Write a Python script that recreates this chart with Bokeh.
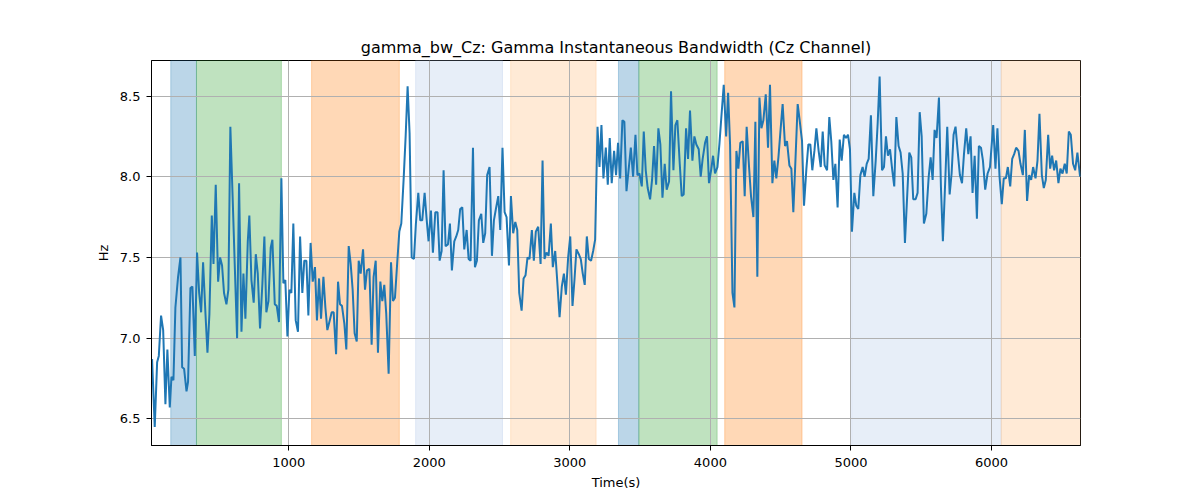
from bokeh.plotting import figure
from bokeh.models import Range1d, FixedTicker, NumeralTickFormatter, BoxAnnotation, ColumnDataSource
from bokeh.embed import file_html
from bokeh.resources import INLINE

title_text = "gamma_bw_Cz: Gamma Instantaneous Bandwidth (Cz Channel)"
x_label = "Time(s)"
y_label = "Hz"

times = [
    28, 47, 64, 76, 92, 107, 123, 137, 154, 166, 180, 194, 213, 230, 242, 256, 273, 284, 301, 315,
    332, 348, 363, 377, 391, 408, 422, 436, 453, 465, 481, 498, 512, 526, 540, 557, 571, 585, 602, 616,
    633, 647, 664, 678, 692, 709, 720, 735, 751, 766, 780, 796, 813, 827, 841, 856, 872, 884, 901, 915,
    931, 948, 962, 976, 991, 1005, 1019, 1033,
    1050, 1066, 1081, 1097, 1111, 1126, 1140, 1156, 1171, 1187, 1201, 1216, 1230, 1247, 1261, 1275,
    1292, 1306, 1320, 1337, 1351, 1365, 1379, 1396, 1410, 1427, 1441, 1455, 1469, 1484, 1498, 1512,
    1529, 1543, 1557, 1574, 1590, 1604, 1619, 1635, 1652, 1666, 1680, 1694, 1711, 1728, 1742, 1756,
    1773, 1787, 1801, 1818, 1832, 1846, 1860, 1875, 1891, 1905, 1922, 1936, 1950, 1967, 1981, 1995,
    2012, 2026, 2043, 2059, 2074, 2088, 2102, 2116, 2133, 2147, 2161, 2178, 2192, 2206, 2220, 2235,
    2249, 2266, 2280, 2294, 2311, 2325, 2339, 2353, 2370, 2384, 2398, 2412, 2429, 2446, 2460, 2474,
    2491, 2505, 2521, 2536, 2550, 2567, 2581, 2597, 2612, 2626, 2640, 2657, 2671, 2685, 2699, 2713,
    2730, 2744, 2758, 2775, 2792, 2806, 2820, 2834, 2849, 2865, 2879, 2896, 2910, 2927, 2943, 2958,
    2972, 2988, 3003,
    3019, 3033, 3047, 3064, 3078, 3092, 3106, 3121, 3135, 3151, 3166, 3180, 3197, 3211, 3225, 3239,
    3256, 3270, 3284, 3298, 3315, 3329, 3343, 3358, 3374, 3388, 3403, 3419, 3434, 3450, 3467, 3481,
    3495, 3512, 3526, 3540, 3554, 3571, 3585, 3599, 3614, 3630, 3644, 3659, 3675, 3689, 3706, 3720,
    3737, 3751, 3765, 3782, 3796, 3810, 3827, 3841, 3855, 3872, 3886, 3900, 3917, 3931, 3945, 3962,
    3976, 3990,
    4005, 4019, 4033, 4050, 4064, 4078, 4095, 4112, 4126, 4140, 4157, 4171, 4185, 4199, 4213, 4230,
    4244, 4258, 4275, 4289, 4306, 4320, 4334, 4349, 4363, 4377, 4394, 4410, 4424, 4441, 4455, 4469,
    4484, 4500, 4514, 4531, 4545, 4562, 4576, 4590, 4605, 4621, 4635, 4652, 4666, 4683, 4697, 4711,
    4725, 4740, 4754, 4770, 4785, 4799, 4813, 4830, 4846, 4860, 4875, 4889, 4905, 4920, 4934, 4950,
    4965, 4979,
    4993, 5007, 5024, 5038, 5052, 5067, 5083, 5097, 5112, 5126, 5142, 5159, 5176, 5190, 5204, 5221,
    5235, 5249, 5263, 5278, 5294, 5308, 5323, 5339, 5353, 5368, 5384, 5401, 5415, 5429, 5443, 5460,
    5474, 5489, 5503, 5519, 5536, 5553, 5567, 5581, 5595, 5609, 5626, 5640, 5654, 5671, 5685, 5702,
    5716, 5730, 5744, 5759, 5775, 5790, 5804, 5820, 5835, 5851, 5865, 5880, 5896, 5910, 5925, 5939,
    5955, 5972, 5989,
    6012, 6028, 6042, 6057, 6073, 6087, 6102, 6116, 6133, 6147, 6161, 6175, 6192, 6206, 6223, 6237,
    6253, 6268, 6282, 6296, 6313, 6327, 6341, 6358, 6372, 6386, 6403, 6417, 6431, 6445, 6460, 6476,
    6490, 6505, 6521, 6535, 6550, 6564, 6580, 6595, 6611, 6630,
]

bandwidth_hz = [
    6.87, 6.45, 6.85, 6.89, 7.14, 7.05, 6.59, 6.93, 6.57, 6.76, 6.74, 7.19, 7.38, 7.50, 6.82, 6.81, 6.67, 6.73, 7.31, 7.32,
    6.89, 7.53, 7.28, 7.16, 7.47, 7.15, 6.91, 7.15, 7.76, 7.46, 7.95, 7.35, 7.50, 7.45, 7.28, 7.21, 7.30, 8.31, 7.85, 7.46,
    7.00, 7.96, 7.04, 7.40, 7.12, 7.60, 7.76, 7.36, 7.22, 7.52, 7.40, 7.06, 7.34, 7.63, 7.16, 7.23, 7.56, 7.61, 7.21, 7.20,
    7.10, 7.99, 7.34, 7.36, 7.01, 7.30, 7.28, 7.71,
    7.11, 7.04, 7.63, 7.28, 7.48, 7.48, 7.14, 7.59, 7.35, 7.44, 7.11, 7.37, 7.12, 7.38, 7.19, 7.05,
    7.11, 7.16, 7.16, 6.90, 7.35, 7.21, 7.20, 7.09, 6.93, 7.57, 7.46, 7.30, 7.03, 6.98, 7.48, 7.40,
    7.55, 7.30, 7.42, 7.43, 6.96, 7.38, 7.48, 6.91, 7.35, 7.23, 7.33, 7.15, 6.78, 7.47, 7.23, 7.25,
    7.48, 7.66, 7.71, 7.99, 8.25, 8.56, 8.27, 7.50, 7.49, 7.71, 7.90, 7.73, 7.73, 7.90, 7.74, 7.60,
    7.79, 7.53, 7.78, 7.78, 7.48, 7.54, 8.04, 7.57, 7.58, 7.71, 7.42, 7.60, 7.63, 7.67, 7.80, 7.81,
    7.55, 7.67, 7.49, 7.48, 8.18, 7.44, 7.48, 7.73, 7.77, 7.59, 7.65, 8.01, 8.06, 7.51, 7.73, 7.80,
    7.88, 7.67, 8.18, 7.78, 7.75, 7.45, 7.88, 7.65, 7.72, 7.67, 7.28, 7.17, 7.37, 7.39, 7.50, 7.49,
    7.67, 7.48, 7.66, 7.69, 7.46, 8.10, 7.49, 7.53, 7.51, 7.71, 7.44, 7.54, 7.36, 7.13, 7.32, 7.40,
    7.27, 7.50, 7.63,
    7.20, 7.36, 7.55, 7.52, 7.49, 7.40, 7.33, 7.63, 7.49, 7.48, 7.54, 7.61, 8.31, 8.06, 8.32, 7.99,
    8.18, 7.95, 8.24, 7.96, 8.16, 8.01, 8.21, 7.99, 8.35, 8.34, 7.91, 8.05, 8.18, 8.00, 8.26, 8.01,
    8.02, 7.94, 8.28, 8.04, 7.93, 7.86, 7.98, 8.19, 7.95, 8.30, 8.20, 7.87, 8.08, 7.92, 7.97, 8.53,
    8.04, 8.32, 8.35, 8.08, 7.88, 7.89, 8.30, 8.11, 8.41, 8.10, 8.25, 8.20, 8.17, 8.00, 8.11, 8.21,
    8.25, 7.96,
    8.04, 8.13, 8.02, 8.06, 8.20, 8.37, 8.57, 8.25, 8.52, 8.20, 7.28, 7.19, 8.16, 8.05, 8.21, 8.22,
    7.88, 8.31, 8.06, 7.88, 7.75, 8.34, 7.38, 8.49, 8.30, 8.35, 8.51, 8.18, 8.57, 7.96, 8.10, 7.99,
    8.12, 8.30, 8.45, 8.19, 8.22, 8.07, 8.05, 7.78, 8.10, 8.45, 8.35, 8.22, 7.82, 8.05, 8.20, 8.20,
    8.04, 8.16, 8.30, 8.16, 8.06, 8.28, 8.07, 8.04, 8.37, 8.22, 7.98, 8.08, 7.81, 8.23, 8.10, 8.26,
    8.24, 8.26,
    8.17, 7.66, 7.90, 7.82, 7.80, 8.01, 8.06, 8.00, 8.08, 8.11, 8.38, 7.88, 8.10, 8.33, 8.62, 8.04,
    8.06, 8.25, 8.13, 8.17, 8.04, 7.94, 8.37, 8.19, 8.15, 8.02, 7.59, 7.90, 8.15, 8.12, 7.86, 7.86,
    7.90, 8.40, 8.25, 7.71, 7.77, 8.00, 8.12, 7.98, 8.29, 8.24, 8.49, 7.94, 7.60, 7.98, 8.31, 7.89,
    8.02, 8.26, 8.31, 8.16, 8.01, 7.96, 8.14, 8.30, 8.14, 8.25, 7.90, 8.13, 7.74, 8.19, 8.18, 8.10,
    7.92, 8.02, 8.06,
    8.32, 8.05, 8.30, 8.00, 7.83, 7.99, 7.99, 8.06, 7.94, 8.11, 8.14, 8.18, 8.16, 8.08, 8.01, 8.29,
    7.85, 8.01, 7.98, 8.06, 7.99, 8.10, 8.39, 8.01, 7.93, 7.98, 8.26, 8.05, 8.13, 8.04, 8.10, 7.96,
    8.05, 8.02, 8.08, 8.02, 8.28, 8.26, 8.08, 8.04, 8.15, 8.00,
]

region_starts = [161, 344, 1163, 1903, 2579, 3346, 3491, 4102, 5005, 6069]
region_ends = [344, 948, 1787, 2521, 3187, 3491, 4048, 4652, 6069, 6700]
region_colors = ["#1f77b4", "#2ca02c", "#ff7f0e", "#aec7e8", "#ffbb78",
                 "#1f77b4", "#2ca02c", "#ff7f0e", "#aec7e8", "#ffbb78"]

x_ticks = [1000, 2000, 3000, 4000, 5000, 6000]
y_ticks = [6.5, 7.0, 7.5, 8.0, 8.5]

FONT = "DejaVu Sans"

p = figure(width=1200, height=500, output_backend="svg", toolbar_location=None,
           x_range=Range1d(24, 6633), y_range=Range1d(6.335, 8.72),
           title=title_text,
           min_border_left=151, min_border_right=120, min_border_top=60, min_border_bottom=55)

p.title.align = "center"
p.title.text_font = FONT
p.title.text_font_size = "16px"
p.title.text_font_style = "normal"
p.title.text_color = "black"
p.title.standoff = 7

for s, e, c in zip(region_starts, region_ends, region_colors):
    box = BoxAnnotation(left=s, right=e, fill_color=c, fill_alpha=0.3,
                        line_color=c, line_alpha=0.3, line_width=1, level="image")
    p.add_layout(box)

src = ColumnDataSource(data=dict(t=times, v=bandwidth_hz))
p.line("t", "v", source=src, line_color="#1f77b4", line_width=2)

p.xgrid.ticker = FixedTicker(ticks=x_ticks)
p.ygrid.ticker = FixedTicker(ticks=y_ticks)
p.grid.grid_line_color = "#b0b0b0"
p.grid.grid_line_width = 1
p.grid.grid_line_alpha = 1

p.xaxis.ticker = FixedTicker(ticks=x_ticks)
p.yaxis.ticker = FixedTicker(ticks=y_ticks)
p.xaxis.formatter = NumeralTickFormatter(format="0")
p.yaxis.formatter = NumeralTickFormatter(format="0.0")
p.xaxis.axis_label = x_label
p.yaxis.axis_label = y_label

for ax in (p.xaxis, p.yaxis):
    ax.axis_label_text_font = FONT
    ax.axis_label_text_font_size = "13px"
    ax.axis_label_text_font_style = "normal"
    ax.axis_label_text_color = "black"
    ax.major_label_text_font = FONT
    ax.major_label_text_font_size = "13px"
    ax.major_label_text_color = "black"
    ax.axis_line_color = "black"
    ax.major_tick_line_color = "black"
    ax.minor_tick_line_color = None
    ax.major_tick_out = 5
    ax.major_tick_in = 0

p.xaxis.major_label_standoff = 7
p.xaxis.axis_label_standoff = 5
p.yaxis.major_label_standoff = 6
p.yaxis.axis_label_standoff = 6

p.outline_line_color = "black"
p.outline_line_alpha = 1
p.outline_line_width = 1
p.background_fill_color = "white"
p.border_fill_color = "white"

open("out.html", "w").write(file_html(p, INLINE))
